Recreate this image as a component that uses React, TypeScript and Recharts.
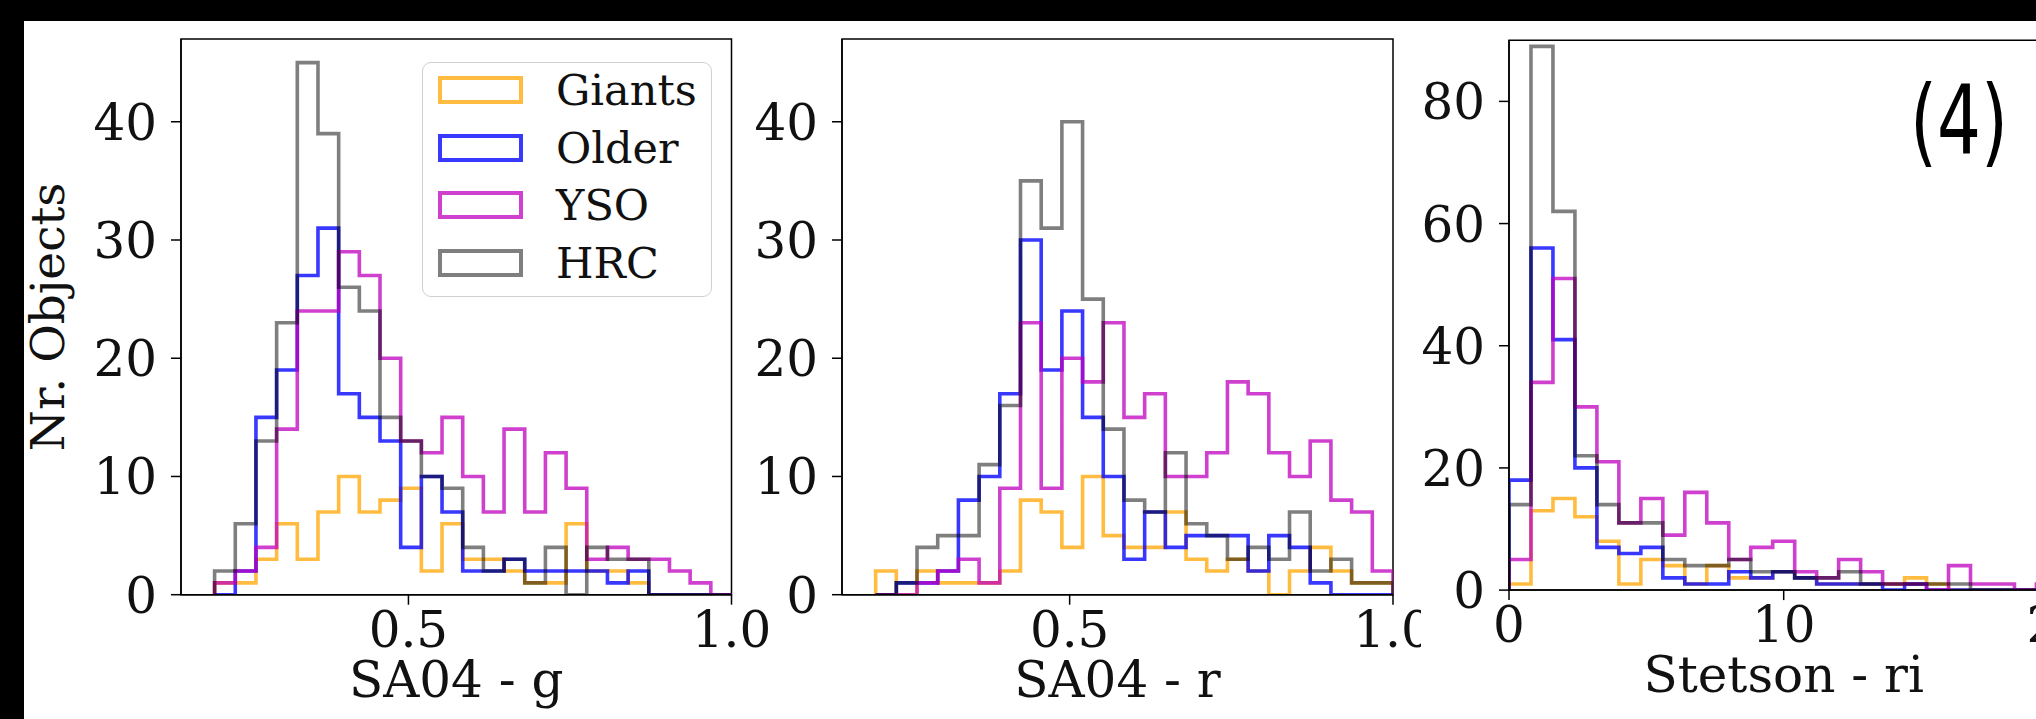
import React from 'react';
import { LineChart, Line, XAxis, YAxis, ReferenceArea, Label } from 'recharts';

// ---------- data ----------
const seriesNames = ['Giants', 'Older', 'YSO', 'HRC'];

// Panel 1: SA04 - g  (25 bins from 0.2, width 0.032)
const gBinStart = 0.2;
const gBinWidth = 0.032;
const gGiants = [1, 1, 3, 6, 3, 7, 10, 7, 8, 9, 2, 6, 3, 3, 2, 1, 1, 6, 2, 2, 1, 0, 0, 0, 0];
const gOlder = [0, 2, 15, 19, 27, 31, 17, 15, 13, 4, 10, 7, 2, 2, 3, 2, 2, 2, 2, 1, 2, 0, 0, 0, 0];
const gYSO = [1, 2, 4, 14, 24, 24, 29, 27, 20, 13, 12, 15, 10, 7, 14, 7, 12, 9, 3, 4, 3, 3, 2, 1, 0];
const gHRC = [2, 6, 13, 23, 45, 39, 26, 24, 15, 13, 10, 9, 4, 2, 3, 1, 4, 0, 4, 3, 3, 0, 0, 0, 0];

// Panel 2: SA04 - r  (25 bins from 0.2, width 0.032)
const rBinStart = 0.2;
const rBinWidth = 0.032;
const rGiants = [2, 0, 2, 1, 1, 1, 2, 8, 7, 4, 10, 5, 4, 4, 7, 3, 2, 3, 2, 0, 2, 4, 2, 1, 1];
const rOlder = [0, 1, 1, 2, 8, 10, 17, 30, 19, 24, 15, 10, 3, 7, 4, 5, 5, 5, 2, 5, 4, 1, 0, 0, 0];
const rYSO = [0, 0, 1, 2, 3, 1, 9, 23, 9, 20, 18, 23, 15, 17, 10, 10, 12, 18, 17, 12, 10, 13, 8, 7, 2];
const rHRC = [0, 1, 4, 5, 5, 11, 16, 35, 31, 40, 25, 14, 8, 7, 12, 6, 5, 3, 4, 3, 7, 2, 3, 1, 1];

// Panel 3: Stetson - ri  (25 bins from 0, width 0.8)
const riBinStart = 0;
const riBinWidth = 0.8;
const riGiants = [1, 13, 15, 12, 8, 1, 5, 4, 1, 4, 2, 2, 3, 2, 1, 1, 1, 1, 2, 1, 0, 0, 0, 0, 0];
const riOlder = [18, 56, 41, 20, 7, 6, 7, 2, 1, 1, 3, 2, 3, 2, 1, 1, 1, 0, 1, 0, 0, 0, 0, 0, 0];
const riYSO = [5, 34, 51, 30, 21, 11, 15, 9, 16, 11, 5, 7, 8, 3, 2, 5, 3, 1, 1, 0, 4, 1, 1, 0, 1];
const riHRC = [14, 89, 62, 22, 14, 11, 11, 5, 4, 4, 5, 3, 3, 2, 2, 3, 1, 1, 1, 1, 1, 0, 0, 0, 0];

// ticks
const sa04XTicks = [0.5, 1.0];
const sa04YTicks = [0, 10, 20, 30, 40];
const riXTicks = [0, 10, 20];
const riYTicks = [0, 20, 40, 60, 80];

const panelXLabels = ['SA04 - g', 'SA04 - r', 'Stetson - ri'];
const yAxisTitle = 'Nr. Objects';
const panelTag = '(4)';

// ---------- styles ----------
const COLORS = ['#FFA500', '#0000FF', '#BF00BF', '#000000'];
const OPAC = [0.75, 0.78, 0.75, 0.5];
const FONT = '"DejaVu Serif", serif';
const TXT = '#111';
const TICK_FS = 50;
const LABEL_FS = 50;
const YTITLE_FS = 47;

type Pt = { x: number; y: number };
function stepPoints(start: number, width: number, counts: number[]): Pt[] {
  const pts: Pt[] = [{ x: start, y: 0 }];
  counts.forEach((c, i) => pts.push({ x: start + i * width, y: c }));
  pts.push({ x: start + counts.length * width, y: 0 });
  return pts;
}

const makeXTick = (fmt: (v: number) => string) => (p: any) => (
  <text x={p.x} y={p.y} dy={40} textAnchor="middle" fontFamily={FONT} fontSize={TICK_FS} fill={TXT}>
    {fmt(p.payload.value)}
  </text>
);
const yTick = (p: any) => (
  <text x={p.x - 12} y={p.y} dy={18} textAnchor="end" fontFamily={FONT} fontSize={TICK_FS} fill={TXT}>
    {p.payload.value}
  </text>
);

const LegendBox = ({ left, top }: { left: number; top: number }) => (
  <div
    style={{
      position: 'absolute',
      left,
      top,
      width: 290,
      height: 235,
      boxSizing: 'border-box',
      border: '1.5px solid #d0d0d0',
      borderRadius: 9,
      background: 'rgba(255,255,255,0.85)',
    }}
  >
    {seriesNames.map((n, i) => (
      <React.Fragment key={n}>
        <div
          style={{
            position: 'absolute',
            left: 15,
            top: 13 + i * 57.5,
            width: 85,
            height: 28,
            boxSizing: 'border-box',
            border: `4px solid ${COLORS[i]}`,
            opacity: OPAC[i],
          }}
        />
        <div
          style={{
            position: 'absolute',
            left: 133,
            top: 13 + i * 57.5 + 14 - 24,
            height: 48,
            lineHeight: '48px',
            fontFamily: FONT,
            fontSize: 43,
            color: TXT,
            whiteSpace: 'nowrap',
          }}
        >
          {n}
        </div>
      </React.Fragment>
    ))}
  </div>
);

type PanelProps = {
  wl: number;
  ww: number;
  plotLeft: number;
  plotRight: number;
  plotTop: number;
  plotBottom: number;
  xDomain: [number, number];
  yDomain: [number, number];
  xTicks: number[];
  yTicks: number[];
  xFmt: (v: number) => string;
  series: Pt[][];
  xLabel: string;
  showYTitle?: boolean;
  bg?: string;
};

const TOP = 21;
const H = 698;
const XH = 100;

function Panel(props: PanelProps) {
  const { wl, ww, plotLeft, plotRight, plotTop, plotBottom, xDomain, yDomain, xTicks, yTicks, xFmt, series, xLabel } = props;
  const margin = {
    top: plotTop - TOP,
    right: wl + ww - plotRight,
    left: 0,
    bottom: H - (plotBottom - TOP) - XH,
  };
  return (
    <div style={{ position: 'absolute', left: wl, top: TOP, width: ww, height: H, background: props.bg || 'transparent' }}>
      <LineChart width={ww} height={H} margin={margin}>
        <XAxis
          type="number"
          dataKey="x"
          domain={xDomain}
          ticks={xTicks}
          allowDataOverflow
          height={XH}
          tickSize={10}
          tickLine={{ stroke: '#000', strokeWidth: 1.5 }}
          axisLine={{ stroke: '#000', strokeWidth: 1.5 }}
          tick={makeXTick(xFmt)}
          interval={0}
        >
          <Label
            content={(lp: any) => {
              const vb = lp.viewBox;
              return (
                <text x={vb.x + vb.width / 2} y={vb.y + 102} textAnchor="middle" fontFamily={FONT} fontSize={LABEL_FS} fill={TXT}>
                  {xLabel}
                </text>
              );
            }}
          />
        </XAxis>
        <YAxis
          type="number"
          domain={yDomain}
          ticks={yTicks}
          allowDataOverflow
          width={plotLeft - wl}
          tickSize={10}
          tickLine={{ stroke: '#000', strokeWidth: 1.5 }}
          axisLine={{ stroke: '#000', strokeWidth: 1.5 }}
          tick={yTick}
          interval={0}
        >
          {props.showYTitle ? (
            <Label
              content={(lp: any) => {
                const vb = lp.viewBox;
                const cx = 64 - wl;
                const cy = vb.y + vb.height / 2;
                return (
                  <text
                    x={cx}
                    y={cy}
                    transform={`rotate(-90 ${cx} ${cy})`}
                    textAnchor="middle"
                    fontFamily={FONT}
                    fontSize={YTITLE_FS}
                    fill={TXT}
                  >
                    {yAxisTitle}
                  </text>
                );
              }}
            />
          ) : null}
        </YAxis>
        <ReferenceArea
          x1={xDomain[0]}
          x2={xDomain[1]}
          y1={yDomain[0]}
          y2={yDomain[1]}
          fill="none"
          stroke="#000"
          strokeWidth={1.5}
          ifOverflow="visible"
        />
        {series.map((pts, i) => (
          <Line
            key={seriesNames[i]}
            name={seriesNames[i]}
            data={pts}
            dataKey="y"
            type="stepAfter"
            stroke={COLORS[i]}
            strokeOpacity={OPAC[i]}
            strokeWidth={3.6}
            dot={false}
            activeDot={false}
            isAnimationActive={false}
          />
        ))}
      </LineChart>
    </div>
  );
}

const fmt1 = (v: number) => v.toFixed(1);
const fmt0 = (v: number) => String(Math.round(v));

export default function App() {
  const p1 = [gGiants, gOlder, gYSO, gHRC].map((c) => stepPoints(gBinStart, gBinWidth, c));
  const p2 = [rGiants, rOlder, rYSO, rHRC].map((c) => stepPoints(rBinStart, rBinWidth, c));
  const p3 = [riGiants, riOlder, riYSO, riHRC].map((c) => stepPoints(riBinStart, riBinWidth, c));
  return (
    <div style={{ position: 'absolute', left: 0, top: 0, width: 2036, height: 719, background: '#000', overflow: 'hidden' }}>
      <div style={{ position: 'absolute', left: 24, top: TOP, width: 2012, height: H, background: '#fff' }} />
      <Panel
        wl={0}
        ww={820}
        plotLeft={181}
        plotRight={731.5}
        plotTop={39}
        plotBottom={594.7}
        xDomain={[0.148, 1.0]}
        yDomain={[0, 47]}
        xTicks={sa04XTicks}
        yTicks={sa04YTicks}
        xFmt={fmt1}
        series={p1}
        xLabel={panelXLabels[0]}
        showYTitle
      />
      <LegendBox left={422} top={62} />
      <Panel
        wl={660}
        ww={800}
        plotLeft={842}
        plotRight={1393}
        plotTop={39}
        plotBottom={594.7}
        xDomain={[0.148, 1.0]}
        yDomain={[0, 47]}
        xTicks={sa04XTicks}
        yTicks={sa04YTicks}
        xFmt={fmt1}
        series={p2}
        xLabel={panelXLabels[1]}
      />
      <Panel
        wl={1421}
        ww={700}
        plotLeft={1509}
        plotRight={2058.4}
        plotTop={40.3}
        plotBottom={590.1}
        xDomain={[0, 20]}
        yDomain={[0, 90]}
        xTicks={riXTicks}
        yTicks={riYTicks}
        xFmt={fmt0}
        series={p3}
        xLabel={panelXLabels[2]}
        bg="#fff"
      />
      <svg style={{ position: 'absolute', left: 0, top: 0 }} width={2036} height={719}>
        <text
          transform="translate(1910,154) scale(0.72,1)"
          x={0}
          y={0}
          fontFamily='"DejaVu Sans", sans-serif'
          fontSize={96}
          fill="#000"
        >
          {panelTag}
        </text>
      </svg>
    </div>
  );
}
